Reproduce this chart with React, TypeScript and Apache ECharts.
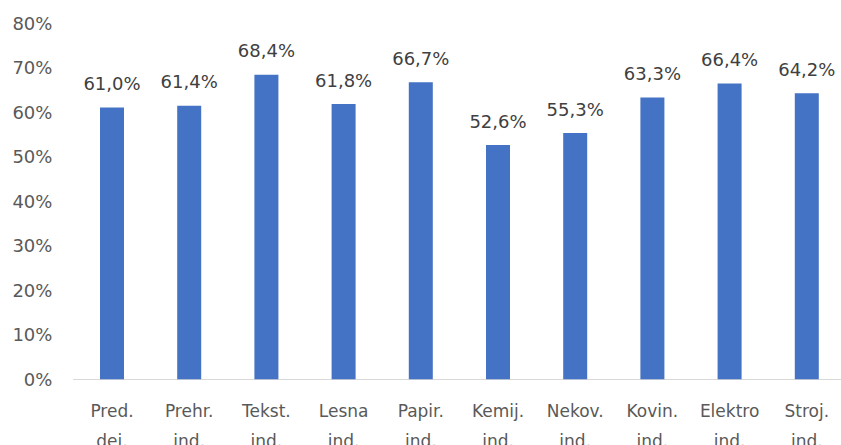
import React, { useEffect, useRef } from "react";
import * as echarts from "echarts";

const categories = [
  "Pred.\ndej.",
  "Prehr.\nind.",
  "Tekst.\nind.",
  "Lesna\nind.",
  "Papir.\nind.",
  "Kemij.\nind.",
  "Nekov.\nind.",
  "Kovin.\nind.",
  "Elektro\nind.",
  "Stroj.\nind.",
];
const values = [61.0, 61.4, 68.4, 61.8, 66.7, 52.6, 55.3, 63.3, 66.4, 64.2];
const yTicks = [0, 10, 20, 30, 40, 50, 60, 70, 80];

export default function App() {
  const ref = useRef<HTMLDivElement>(null);
  useEffect(() => {
    document.body.style.margin = "0";
    const chart = echarts.init(ref.current!, null, { renderer: "svg" });
    const font = "'DejaVu Sans', sans-serif";
    chart.setOption({
      animation: false,
      backgroundColor: "#ffffff",
      grid: {
        left: 73.4,
        right: -4.4,
        top: 23,
        bottom: 65.7,
        containLabel: false,
        outerBoundsMode: "none",
      },
      xAxis: {
        type: "category",
        data: categories,
        axisLine: { lineStyle: { color: "#d9d9d9", width: 1 } },
        axisTick: { show: false },
        axisLabel: {
          color: "#595959",
          fontFamily: font,
          fontSize: 17,
          lineHeight: 30,
          margin: 17,
          interval: 0,
        },
      },
      yAxis: {
        type: "value",
        min: yTicks[0],
        max: yTicks[yTicks.length - 1],
        interval: 10,
        splitLine: { show: false },
        axisLine: { show: false },
        axisTick: { show: false },
        axisLabel: {
          color: "#595959",
          fontFamily: font,
          fontSize: 18,
          margin: 21,
          formatter: (v: number) => `${v}%`,
        },
      },
      series: [
        {
          type: "bar",
          data: values,
          barWidth: 24,
          itemStyle: { color: "#4472C4" },
          label: {
            show: true,
            position: "top",
            distance: 15,
            color: "#404040",
            fontFamily: font,
            fontSize: 18,
            formatter: (p: any) => `${p.value.toFixed(1).replace(".", ",")}%`,
          },
        },
      ],
    });
    return () => chart.dispose();
  }, []);
  return (
    <div
      ref={ref}
      style={{ position: "fixed", left: 0, top: 0, width: 841, height: 445 }}
    />
  );
}
